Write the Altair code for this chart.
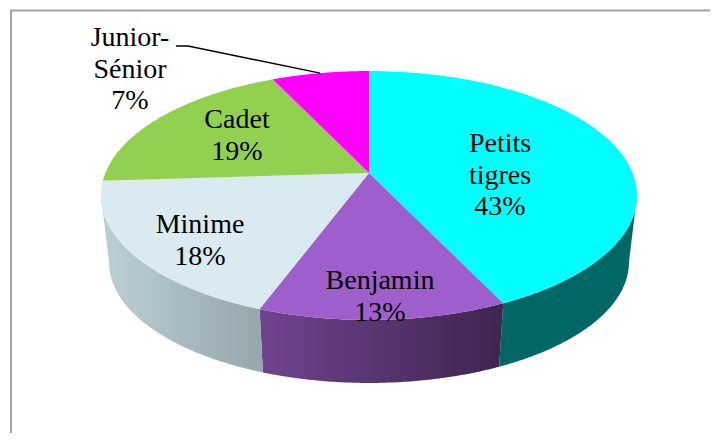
import math
import altair as alt
import pandas as pd

# --- data
categories = ["Petits tigres", "Benjamin", "Minime", "Cadet", "Junior-Sénior"]
values = [43, 12.6, 18.4, 19, 7]
percent_labels = ["43%", "13%", "18%", "19%", "7%"]
label_lines = [["Petits", "tigres"], ["Benjamin"], ["Minime"], ["Cadet"], ["Junior-", "Sénior"]]

# --- styles
top_colors = ["#00FFFF", "#9E5ECB", "#D9EAF0", "#92D050", "#FF00FF"]
side_stops = {
    "Petits tigres": ("#006666", "#006666"),
    "Benjamin": ("#70438F", "#3E254F"),
    "Minime": ("#BBD0D6", "#96A7AC"),
}

# --- layout of the tilted disc (page pixels)
PAGE = 8
CX, CY = 369, 173
A, B, K = 263.6, 120.4, 0.1807
DEPTH, SHRINK = 67.4, 0.97
W, H = 702, 425
# (centre x, first baseline y)
label_anchor = [(500, 152), (380, 289), (200, 233), (237, 128), (130, 46)]
LINE_STEP = 31.5
# angle at which the rim turns back: the visible wall stops there
TANGENT = math.degrees(math.acos(-K))


def rim(theta_deg, r=1.0, lower=False):
    t = math.radians(theta_deg)
    d = 1 + K * r * math.cos(t)
    x = A * r * math.sin(t) / d
    y = -B * r * math.cos(t) / d
    if lower:
        return [CX + SHRINK * x - PAGE, CY + DEPTH + SHRINK * y - PAGE]
    return [CX + x - PAGE, CY + y - PAGE]


def sweep(a, b, n=90, lower=False):
    return [rim(a + (b - a) * i / n, lower=lower) for i in range(n + 1)]


def feature(kind, coords, **props):
    return {"type": "Feature", "properties": props, "geometry": {"type": kind, "coordinates": coords}}


total = sum(values)
edges = [0.0]
for v in values:
    edges.append(edges[-1] + v / total * 360)

apex = [CX - PAGE, CY - PAGE]
top_features = [
    feature("Polygon", [[apex] + sweep(edges[i], edges[i + 1]) + [apex]], color=top_colors[i], name=categories[i])
    for i in range(len(values))
]

projection = dict(type="identity", scale=1, translate=[0, 0])


def geo(features, **mark):
    return alt.Chart(alt.Data(values=features)).mark_geoshape(**mark).project(**projection)


layers = []

# frame
layers.append(geo([feature("LineString", [[3, H], [3, 2.5], [W, 2.5]])],
                  filled=False, stroke="#A3A3A3", strokeWidth=2))

# side walls, clipped to the visible part of the rim
for i, name in enumerate(categories):
    if name not in side_stops:
        continue
    a = max(edges[i], TANGENT)
    b = min(edges[i + 1], 360 - TANGENT)
    ring = sweep(a, b) + sweep(b, a, lower=True)
    ring.append(ring[0])
    c0, c1 = side_stops[name]
    grad = {"gradient": "linear", "x1": 0, "x2": 1, "y1": 0, "y2": 0,
            "stops": [{"offset": 0, "color": c0}, {"offset": 1, "color": c1}]}
    layers.append(geo([feature("Polygon", [ring], name=name)], filled=True, fill=grad, strokeWidth=0))

# top face
layers.append(
    geo(top_features, filled=True, strokeWidth=0).encode(
        color=alt.Color("properties.color:N", scale=None, legend=None)
    )
)

# leader line of the smallest slice
mid_last = (edges[-2] + edges[-1]) / 2
leader = [[176 - PAGE, 46 - PAGE], [188 - PAGE, 46 - PAGE], rim(mid_last)]
layers.append(geo([feature("LineString", leader)], filled=False, stroke="#000000", strokeWidth=1.5))

# labels
rows = []
for lines, pct, (ax, ay) in zip(label_lines, percent_labels, label_anchor):
    for j, t in enumerate(lines + [pct]):
        rows.append({"lon": ax - PAGE, "lat": ay + j * LINE_STEP - PAGE, "t": t})
text = (
    alt.Chart(pd.DataFrame(rows))
    .mark_text(font="Liberation Serif", fontSize=28, baseline="alphabetic", align="center", color="#000000")
    .encode(longitude="lon:Q", latitude="lat:Q", text="t:N")
    .project(**projection)
)
layers.append(text)

chart = (
    alt.layer(*layers)
    .properties(width=W, height=H, padding=0, background="#FFFFFF")
    .configure_view(stroke=None)
)
chart.save("out.html", embed_options={"renderer": "svg", "actions": False})
